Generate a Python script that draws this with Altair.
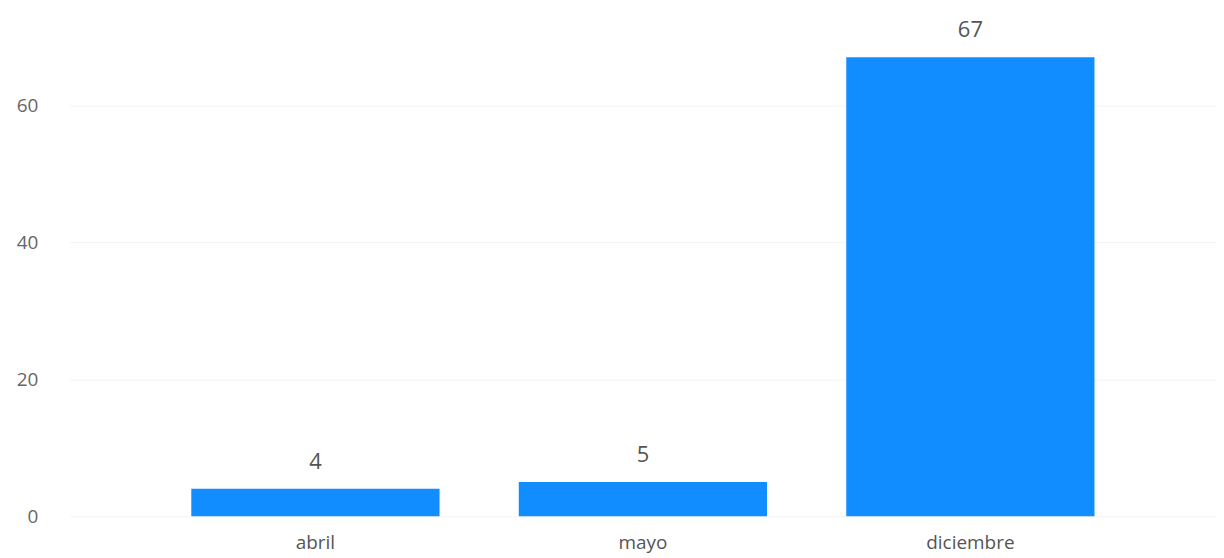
import altair as alt
import pandas as pd

months = ["abril", "mayo", "diciembre"]
counts = [4, 5, 67]
y_ticks = [0, 20, 40, 60]

df = pd.DataFrame({"mes": months, "n": counts})

base = alt.Chart(df).encode(
    x=alt.X("mes:N", sort=months, title=None,
            scale=alt.Scale(paddingInner=0.242, paddingOuter=0.371),
            axis=alt.Axis(labelAngle=0, domain=False, ticks=False, labelPadding=17,
                          labelFontSize=19, labelColor="#555555", labelFont="Open Sans")),
    y=alt.Y("n:Q", title=None, scale=alt.Scale(domain=[0, 70], nice=False),
            axis=alt.Axis(values=y_ticks, domain=False, ticks=False, labelPadding=32,
                          labelFontSize=19, labelColor="#666666", labelFont="Open Sans",
                          gridColor="#f3f3f3", gridWidth=1)),
)

bars = base.mark_bar(color="#118DFF")
text = base.mark_text(dy=-27, fontSize=22, color="#555555", font="Open Sans").encode(text="n:Q")

chart = (bars + text).properties(
    width=1150, height=481,
    autosize=alt.AutoSizeParams(type="none"),
    padding={"left": 62, "top": 28, "right": 0, "bottom": 40},
).configure(background="white").configure_view(stroke=None)

chart.save("out.html", embed_options={"renderer": "svg", "actions": False})
